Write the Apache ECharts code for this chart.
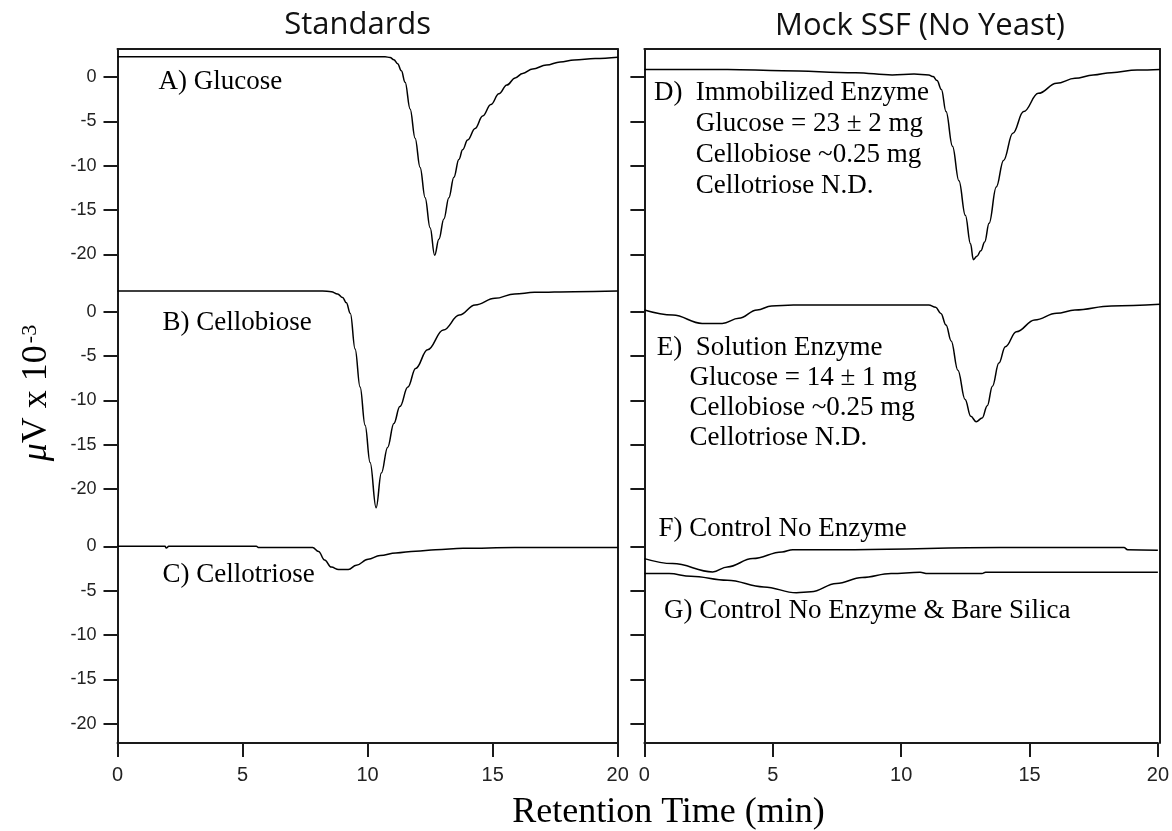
<!DOCTYPE html>
<html><head><meta charset="utf-8">
<script src="https://cdn.jsdelivr.net/npm/echarts@6/dist/echarts.min.js"></script>
<style>html,body{margin:0;padding:0;background:#fff;overflow:hidden;width:100%;height:100%}#c{width:1172px;height:831px;position:absolute;left:0;top:0}</style>
</head><body><div id="c"></div>
<script>
// ---- tick labels ----
const xTicks = [0, 5, 10, 15, 20];
const yTicks = [0, -5, -10, -15, -20];

// ---- Standards ----
const tA = [0, 5, 10.7, 10.9, 11.05, 11.2, 11.35, 11.5, 11.7, 11.9, 12.1, 12.3, 12.5, 12.68, 12.85, 13.05, 13.25, 13.45, 13.65, 13.8, 14.0, 14.3, 14.6, 14.93, 15.25, 15.57, 15.9, 16.2, 16.6, 17.15, 17.7, 18.26, 19.1, 20];
const vA = [2.29, 2.29, 2.29, 2.2, 1.95, 1.5, 0.7, -0.6, -3.6, -6.9, -10.2, -13.6, -17.0, -20.1, -18.3, -16.0, -13.6, -11.3, -9.3, -8.2, -7.1, -5.8, -4.4, -3.1, -1.9, -0.9, -0.1, 0.41, 0.9, 1.35, 1.7, 1.92, 2.08, 2.22];

const tB = [0, 5, 8.2, 8.55, 8.8, 9.0, 9.15, 9.31, 9.5, 9.7, 9.9, 10.1, 10.34, 10.55, 10.8, 11.05, 11.29, 11.61, 11.92, 12.4, 13.03, 13.67, 14.3, 15.09, 15.88, 16.67, 18.26, 20];
const vB = [2.33, 2.33, 2.33, 2.25, 2.0, 1.6, 1.0, -0.2, -4.2, -8.5, -12.8, -17.0, -22.1, -18.2, -15.3, -12.6, -10.7, -8.5, -6.4, -4.3, -2.07, -0.38, 0.75, 1.5, 2.0, 2.18, 2.26, 2.33];

const tC = [0, 1.9, 1.95, 2.05, 5.55, 5.65, 7.8, 8.04, 8.28, 8.55, 8.84, 9.23, 9.55, 10.02, 10.5, 11.13, 11.92, 12.72, 13.82, 15.88, 20];
const vC = [0, 0, -0.2, 0, 0, -0.15, -0.15, -0.6, -1.55, -2.35, -2.63, -2.63, -2.14, -1.46, -1.05, -0.75, -0.56, -0.38, -0.23, -0.15, -0.15];

// ---- Mock SSF ----
const tD = [0, 3.23, 5.36, 8.19, 9.61, 10.46, 11.03, 11.2, 11.35, 11.52, 11.7, 11.95, 12.2, 12.45, 12.65, 12.76, 12.9, 13.05, 13.2, 13.37, 13.65, 13.93, 14.29, 14.71, 15.28, 15.99, 16.7, 17.41, 18.11, 19.11, 20];
const vD = [0.86, 0.86, 0.71, 0.49, 0.23, 0.34, 0.23, 0.05, -0.4, -1.4, -3.9, -7.8, -11.7, -15.6, -18.8, -20.6, -20.2, -19.6, -18.6, -16.5, -12.4, -9.4, -6.35, -3.9, -1.84, -0.71, -0.15, 0.23, 0.49, 0.79, 0.86];

const tE = [0, 1.1, 2.24, 3.02, 3.66, 4.37, 4.93, 5.78, 8.19, 11.03, 11.3, 11.5, 11.7, 11.9, 12.16, 12.44, 12.66, 12.87, 13.1, 13.3, 13.5, 13.75, 14.0, 14.43, 15.14, 15.99, 16.7, 18.11, 20];
const vE = [0.19, -0.38, -1.32, -1.32, -0.75, 0.19, 0.64, 0.75, 0.75, 0.75, 0.5, -0.2, -1.5, -3.3, -6.6, -9.9, -11.8, -12.4, -12.0, -10.6, -8.4, -5.8, -3.95, -2.26, -0.94, -0.19, 0.19, 0.64, 0.83];

const tF = [0, 1.1, 2.66, 3.23, 4.22, 5.36, 5.78, 8.19, 13.86, 18.68, 18.82, 20];
const vF = [-1.39, -1.95, -2.89, -2.33, -1.39, -0.64, -0.38, -0.38, -0.15, -0.15, -0.38, -0.45];

const tG = [0, 0.96, 1.81, 3.23, 4.65, 5.92, 6.49, 7.48, 8.48, 9.61, 10.74, 11.03, 13.15, 13.29, 20];
const vG = [-3.08, -3.08, -3.38, -3.83, -4.58, -5.25, -5.14, -4.2, -3.53, -3.08, -2.93, -3.08, -3.08, -2.93, -2.93];

const pair = (t, v) => t.map((x, i) => [x, v[i]]);
const curves = [
  { grid: 0, data: pair(tA, vA) },
  { grid: 1, data: pair(tB, vB) },
  { grid: 2, data: pair(tC, vC) },
  { grid: 3, data: pair(tD, vD) },
  { grid: 4, data: pair(tE, vE) },
  { grid: 5, data: pair(tF, vF) },
  { grid: 5, data: pair(tG, vG) }
];

// ---- layout ----
const panels = [{ left: 117.5, width: 500.2 }, { left: 644.4, width: 515.6 }];
const rows = [
  { top: 49, height: 224.8, min: -22.19, max: 3.16 },
  { top: 273.8, height: 234.6, min: -22.18, max: 4.27 },
  { top: 508.4, height: 234.6, min: -22.18, max: 4.27 }
];
const AX = '#1a1a1a';
const lineAx = { show: true, onZero: false, lineStyle: { color: AX, width: 2 } };
const grids = [], xAxes = [], yAxes = [];
panels.forEach((p, pi) => {
  rows.forEach((r, ri) => {
    const gi = grids.length;
    grids.push({ left: p.left, width: p.width, top: r.top, height: r.height, containLabel: false });
    const xa = { type: 'value', gridIndex: gi, min: 0, max: 20, interval: 5, splitLine: { show: false } };
    if (ri < 2) {
      Object.assign(xa, { show: false });
    } else {
      Object.assign(xa, {
        position: 'bottom',
        axisLine: lineAx,
        axisTick: { show: true, length: 14, lineStyle: { color: AX, width: 2 } },
        axisLabel: { show: true, margin: 22, fontSize: 20, color: '#222', fontFamily: 'Liberation Sans, Arial, sans-serif' }
      });
    }
    xAxes.push(xa);
    yAxes.push({
      type: 'value', gridIndex: gi, min: r.min, max: r.max, position: 'left',
      splitLine: { show: false },
      axisLine: lineAx,
      axisTick: { show: true, length: 14, customValues: yTicks, lineStyle: { color: AX, width: 2 } },
      axisLabel: { show: pi === 0, customValues: yTicks, margin: 21, fontSize: 18, color: '#222', fontFamily: 'Liberation Sans, Arial, sans-serif' }
    });
  });
});
// frame grids: top border + right border spanning each whole panel
panels.forEach((p) => {
  const gi = grids.length;
  grids.push({ left: p.left, width: p.width, top: rows[0].top, height: 694, containLabel: false });
  xAxes.push({ type: 'value', gridIndex: gi, min: 0, max: 20, position: 'top', splitLine: { show: false },
    axisLine: lineAx, axisTick: { show: false }, axisLabel: { show: false } });
  yAxes.push({ type: 'value', gridIndex: gi, min: 0, max: 1, position: 'right', splitLine: { show: false },
    axisLine: lineAx, axisTick: { show: false }, axisLabel: { show: false } });
});

const series = curves.map(c => ({
  type: 'line', xAxisIndex: c.grid, yAxisIndex: c.grid, data: c.data,
  showSymbol: false, smooth: 0.4, smoothMonotone: 'x',
  lineStyle: { color: '#000', width: 1.5 }, silent: true, animation: false
}));

// ---- annotations ----
const serif = 'Liberation Serif, Times New Roman, serif';
const note = (x, y, text) => ({ type: 'text', x: x, y: y, style: { text: text, font: '27px ' + serif, fill: '#000', textAlign: 'left', textVerticalAlign: 'middle' } });
const graphics = [
  note(158.5, 82, 'A) Glucose'),
  note(162.4, 322.5, 'B) Cellobiose'),
  note(162.4, 575, 'C) Cellotriose'),
  note(654, 92.5, 'D)'),
  note(695.8, 92.5, 'Immobilized Enzyme'),
  note(695.8, 123.6, 'Glucose = 23 ± 2 mg'),
  note(695.8, 154.7, 'Cellobiose ~0.25 mg'),
  note(695.8, 185.8, 'Cellotriose N.D.'),
  note(656.7, 347.5, 'E)'),
  note(695.8, 347.5, 'Solution Enzyme'),
  note(689.5, 377.5, 'Glucose = 14 ± 1 mg'),
  note(689.5, 407.5, 'Cellobiose ~0.25 mg'),
  note(689.5, 437.5, 'Cellotriose N.D.'),
  note(658.5, 529, 'F) Control No Enzyme'),
  note(664, 611, 'G) Control No Enzyme & Bare Silica'),
  { type: 'text', x: 357.6, y: 25, style: { text: 'Standards', font: '31px Open Sans, sans-serif', fill: '#111', textAlign: 'center', textVerticalAlign: 'middle' } },
  { type: 'text', x: 920, y: 26, style: { text: 'Mock SSF (No Yeast)', font: '31px Open Sans, sans-serif', fill: '#111', textAlign: 'center', textVerticalAlign: 'middle' } },
  { type: 'text', x: 668.5, y: 813, style: { text: 'Retention Time (min)', font: '36px ' + serif, fill: '#000', textAlign: 'center', textVerticalAlign: 'middle' } },
  { type: 'text', x: 37, y: 393, rotation: Math.PI / 2,
    style: { text: '{mu|μ}V x 10{sup|-3}', font: '36px ' + serif, fill: '#000', textAlign: 'center', textVerticalAlign: 'middle',
      rich: { mu: { fontStyle: 'italic', fontSize: 36, fontFamily: serif }, sup: { fontSize: 22, fontFamily: serif, verticalAlign: 'top', padding: [0, 0, 0, 2] } } } }
];

const chart = echarts.init(document.getElementById('c'), null, { renderer: 'canvas', width: 1172, height: 831 });
chart.setOption({
  backgroundColor: '#fff',
  animation: false,
  grid: grids, xAxis: xAxes, yAxis: yAxes, series: series,
  graphic: graphics
});
</script></body></html>
